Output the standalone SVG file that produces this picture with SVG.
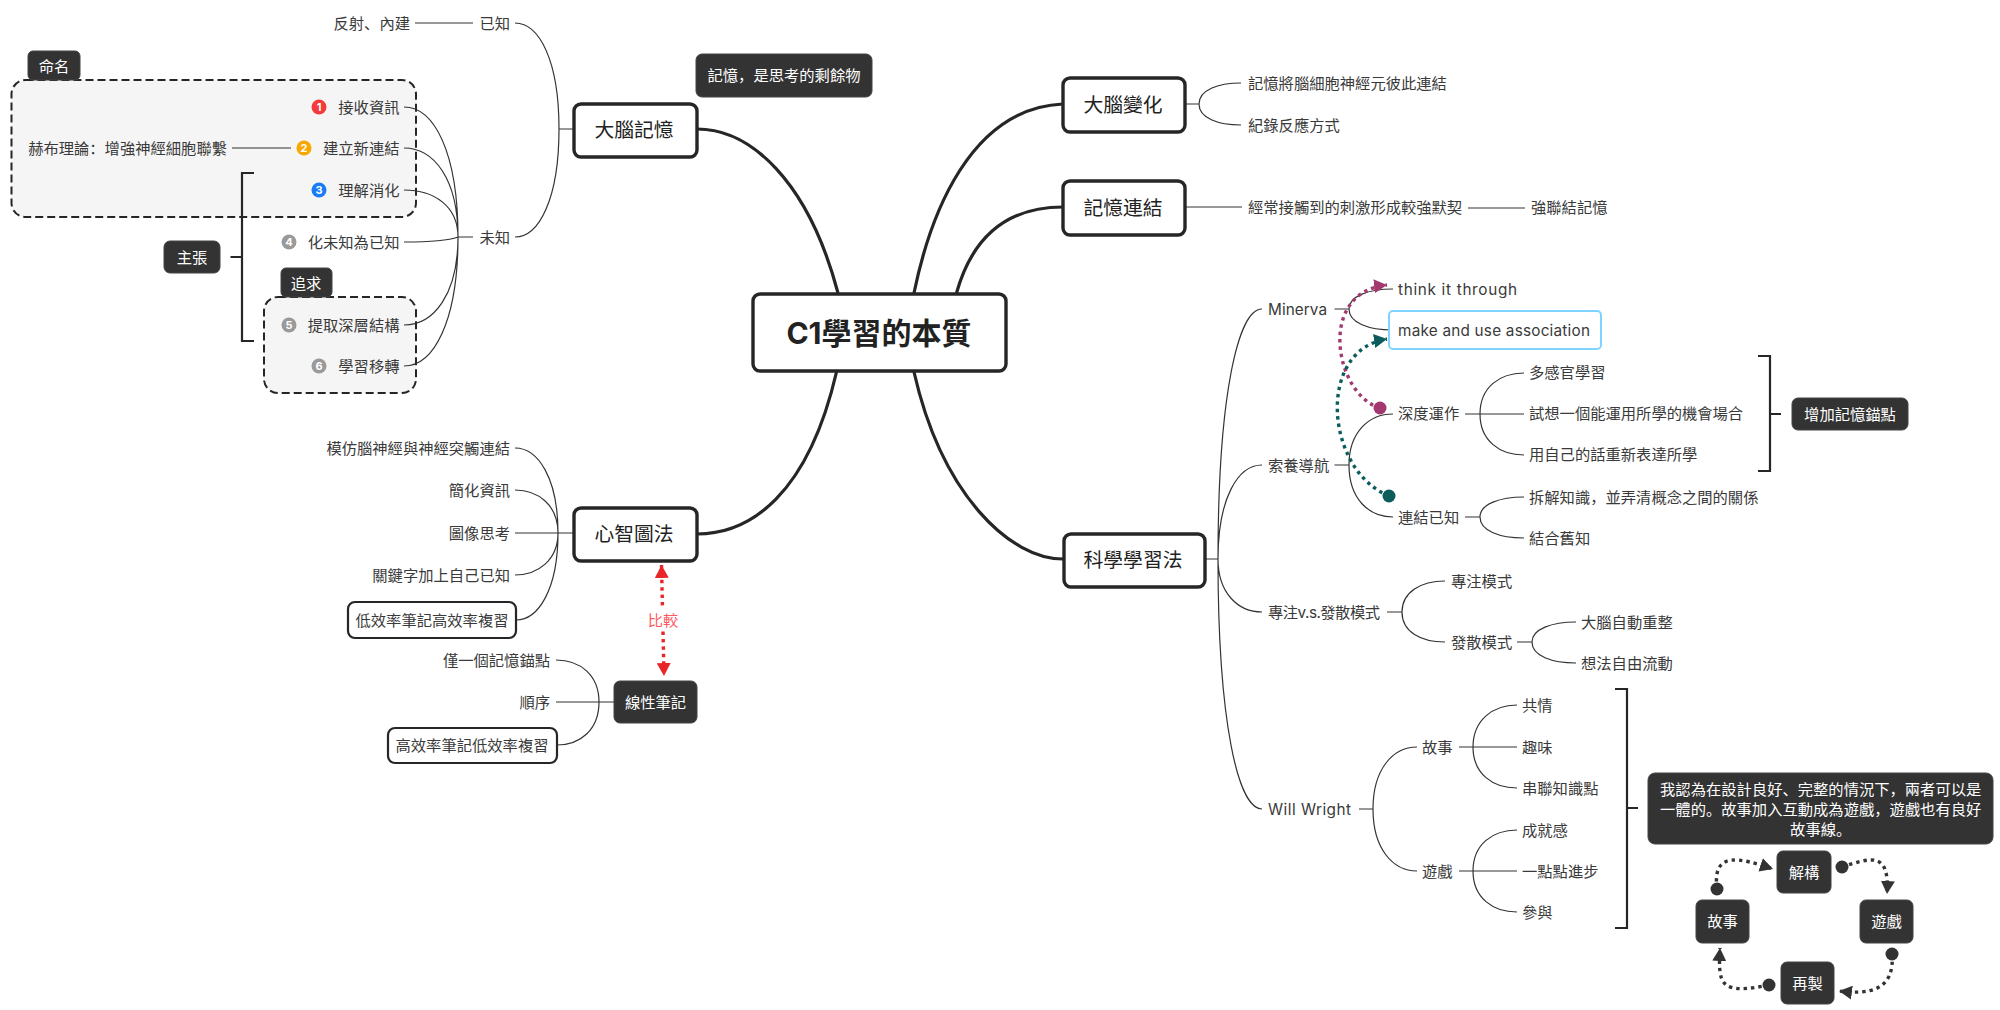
<svg xmlns="http://www.w3.org/2000/svg" width="2000" height="1010" viewBox="0 0 2000 1010">
<style>
text{font-family:Inter,"Noto Sans CJK SC","Noto Sans CJK TC",sans-serif;font-size:15.3px;fill:#3a3a3a;dominant-baseline:central}
.r{text-anchor:end}.m{text-anchor:middle}
.w{fill:#fff;text-anchor:middle}
.h{font-size:19.8px;fill:#222;text-anchor:middle}
.i{font-size:11px;font-weight:700;fill:#fff;text-anchor:middle}
.node{fill:#fff;stroke:#262626;stroke-width:3.4}
.dark{fill:#333;stroke:#444;stroke-width:1}
.box{fill:#fff;stroke:#262626;stroke-width:2.2}
.zone{fill:#f5f5f5;stroke:#262626;stroke-width:2;stroke-dasharray:8 4}
.thin{fill:none;stroke:#333;stroke-width:1.2}
.main{fill:none;stroke:#262626;stroke-width:3.2}
.brk{fill:none;stroke:#262626;stroke-width:2.2}
.dot{fill:none;stroke-width:3.4;stroke-dasharray:3.4 4}
</style>
<defs>
<marker id="am" markerUnits="userSpaceOnUse" markerWidth="14" markerHeight="14" refX="13" refY="7" orient="auto"><path d="M0,0L13,7L0,14Z" fill="#a3386f"/></marker>
<marker id="cm" markerUnits="userSpaceOnUse" markerWidth="14" markerHeight="14" refX="7" refY="7"><circle cx="7" cy="7" r="6.5" fill="#a3386f"/></marker>
<marker id="at" markerUnits="userSpaceOnUse" markerWidth="14" markerHeight="14" refX="13" refY="7" orient="auto"><path d="M0,0L13,7L0,14Z" fill="#0d5c5c"/></marker>
<marker id="ct" markerUnits="userSpaceOnUse" markerWidth="14" markerHeight="14" refX="7" refY="7"><circle cx="7" cy="7" r="6.5" fill="#0d5c5c"/></marker>
<marker id="ad" markerUnits="userSpaceOnUse" markerWidth="14" markerHeight="14" refX="13" refY="7" orient="auto"><path d="M0,0L13,7L0,14Z" fill="#333"/></marker>
<marker id="cd" markerUnits="userSpaceOnUse" markerWidth="14" markerHeight="14" refX="7" refY="7"><circle cx="7" cy="7" r="6.5" fill="#333"/></marker>
<marker id="ar" markerUnits="userSpaceOnUse" markerWidth="14" markerHeight="14" refX="13" refY="7" orient="auto-start-reverse"><path d="M0,0L13,7L0,14Z" fill="#e8262a"/></marker>
</defs>

<g id="zones">
<rect class="zone" x="11.5" y="80" width="404.5" height="137" rx="14"/>
<rect class="zone" x="264" y="297" width="152" height="96" rx="14"/>
</g>

<g id="connectors">
<path class="main" d="M838,293C808,180 750,129 697,129"/>
<path class="main" d="M914,293C930,215 970,108 1063,104"/>
<path class="main" d="M956.5,293C970,245 1000,207 1063,207"/>
<path class="main" d="M836.5,372C808,495 750,534 697,534"/>
<path class="main" d="M914,372C942,495 1010,559 1063,559"/>

<path class="thin" d="M574,129H559M559,129C559,60 539,23 515,23M559,129C559,199 539,237 515,237M473,23H415M473,237H458"/>
<path class="thin" d="M458,237C458,152 434,107 404,107M458,237C458,179 434,148 404,148M458,237C458,206 434,190 404,190M458,237C450,240 434,242 404,242M458,237C458,294 434,325 404,325M458,237C458,321 434,366 404,366M291,148H232"/>
<path class="thin" d="M574,533H515M558,533C558,478 538,448 515,448M558,533C558,505 538,490 515,490M558,533C558,560 538,575 515,575M558,533C558,590 538,620 516,620"/>
<path class="thin" d="M614,702H556M599,702C599,675 580,660 556,660M599,702C599,730 580,745 557,745"/>
<path class="thin" d="M1185,104H1199M1199,104C1199,90 1218,83 1241,83M1199,104C1199,118 1218,125 1241,125"/>
<path class="thin" d="M1185,207H1242M1468,208H1525"/>
<path class="thin" d="M1205,559H1218M1218,559C1218,396 1238,309 1262,309M1218,559C1218,498 1238,465 1262,465M1218,559C1218,593 1238,612 1262,612M1218,559C1218,722 1238,809 1262,809"/>
<path class="thin" d="M1334.5,309H1349M1349,309C1349,296 1369,289 1393,289M1349,309C1349,323 1369,330 1393,330"/>
<path class="thin" d="M1334.5,465H1349M1349,465C1349,432 1369,414 1393,414M1349,465C1349,499 1369,517 1393,517"/>
<path class="thin" d="M1465,414H1524M1480,414C1480,387 1500,373 1524,373M1480,414C1480,441 1500,455 1524,455"/>
<path class="thin" d="M1465,517H1480M1480,517C1480,504 1500,497 1524,497M1480,517C1480,531 1500,538 1524,538"/>
<path class="thin" d="M1387,612H1402M1402,612C1402,592 1421,581 1445,581M1402,612C1402,632 1421,642 1445,642"/>
<path class="thin" d="M1517,642H1532M1532,642C1532,629 1552,622 1576,622M1532,642C1532,656 1552,663 1576,663"/>
<path class="thin" d="M1359,809H1373M1373,809C1373,769 1393,747 1417,747M1373,809C1373,849 1393,871 1417,871"/>
<path class="thin" d="M1459,747H1517M1473,747C1473,720 1493,705 1517,705M1473,747C1473,774 1493,788 1517,788"/>
<path class="thin" d="M1459,871H1517M1473,871C1473,844 1493,830 1517,830M1473,871C1473,898 1493,912 1517,912"/>

<path class="brk" d="M254,173H242V341H254M242,257H230.5"/>
<path class="brk" d="M1758,356H1770V471H1758M1770,414H1781"/>
<path class="brk" d="M1615,689H1627V928H1615M1627,808H1638"/>

<path class="dot" stroke="#a3386f" marker-start="url(#cm)" marker-end="url(#am)" d="M1380,408C1335,395 1316,292 1387,285"/>
<path class="dot" stroke="#0d5c5c" marker-start="url(#ct)" marker-end="url(#at)" d="M1389,496C1325,470 1316,350 1387,339"/>
<path class="dot" stroke="#e8262a" marker-start="url(#ar)" marker-end="url(#ar)" d="M661.5,565L664,676"/>
<path class="dot" stroke="#333" marker-start="url(#cd)" marker-end="url(#ad)" d="M1717,889C1712,850 1740,858 1773,869"/>
<path class="dot" stroke="#333" marker-start="url(#cd)" marker-end="url(#ad)" d="M1842,867C1870,858 1890,850 1887,894"/>
<path class="dot" stroke="#333" marker-start="url(#cd)" marker-end="url(#ad)" d="M1892,954C1895,990 1870,995 1839,991"/>
<path class="dot" stroke="#333" marker-start="url(#cd)" marker-end="url(#ad)" d="M1769,985C1720,995 1718,985 1720,948"/>
</g>

<g id="center"><rect class="node" x="753" y="294" width="253" height="77" rx="7"/><text x="879" y="333" style="font-size:30px;font-weight:700;fill:#222;text-anchor:middle">C1學習的本質</text></g>

<g id="n-brain"><rect class="node" x="574" y="104" width="123" height="53" rx="7"/><text class="h" x="634" y="130">大腦記憶</text></g>
<g id="n-brainchange"><rect class="node" x="1063" y="78" width="122" height="54" rx="7"/><text class="h" x="1123" y="105">大腦變化</text></g>
<g id="n-link"><rect class="node" x="1063" y="181" width="122" height="54" rx="7"/><text class="h" x="1123" y="208">記憶連結</text></g>
<g id="n-science"><rect class="node" x="1064" y="534" width="141" height="53" rx="7"/><text class="h" x="1133" y="560">科學學習法</text></g>
<g id="n-mindmap"><rect class="node" x="574" y="508" width="123" height="53" rx="7"/><text class="h" x="634" y="534">心智圖法</text></g>
<g id="n-linear"><rect class="dark" x="614" y="681" width="83" height="42" rx="6"/><text class="w" x="655.5" y="702">線性筆記</text></g>
<g id="n-note"><rect class="dark" x="696" y="54" width="176" height="43" rx="6"/><text class="w" x="784" y="75">記憶，是思考的剩餘物</text></g>

<g id="n-known"><text class="r" x="510" y="23">已知</text></g>
<g id="n-reflex"><text class="r" x="410" y="23">反射、內建</text></g>
<g id="n-unknown"><text class="r" x="510" y="237">未知</text></g>
<g id="n-name"><rect class="dark" x="28" y="51" width="52" height="29" rx="5"/><text class="w" x="54" y="66">命名</text></g>
<g id="n-s1"><circle cx="319" cy="107" r="7.5" fill="#f43a3a"/><text class="i" x="319" y="107">1</text><text class="r" x="399.5" y="107">接收資訊</text></g>
<g id="n-s2"><circle cx="304" cy="148" r="7.5" fill="#f7a800"/><text class="i" x="304" y="148">2</text><text class="r" x="399.5" y="148">建立新連結</text></g>
<g id="n-hebb"><text class="r" x="227" y="148">赫布理論：增強神經細胞聯繫</text></g>
<g id="n-s3"><circle cx="319" cy="190" r="7.5" fill="#1a7cf5"/><text class="i" x="319" y="190">3</text><text class="r" x="399.5" y="190">理解消化</text></g>
<g id="n-s4"><circle cx="289" cy="242" r="7.5" fill="#9a9a9a"/><text class="i" x="289" y="242">4</text><text class="r" x="399.5" y="242">化未知為已知</text></g>
<g id="n-s5"><circle cx="289" cy="325" r="7.5" fill="#9a9a9a"/><text class="i" x="289" y="325">5</text><text class="r" x="399.5" y="325">提取深層結構</text></g>
<g id="n-s6"><circle cx="319" cy="366" r="7.5" fill="#9a9a9a"/><text class="i" x="319" y="366">6</text><text class="r" x="399.5" y="366">學習移轉</text></g>
<g id="n-claim"><rect class="dark" x="164" y="241" width="56" height="32" rx="6"/><text class="w" x="192" y="257">主張</text></g>
<g id="n-seek"><rect class="dark" x="281" y="268" width="51" height="29" rx="5"/><text class="w" x="306" y="283">追求</text></g>

<g id="n-m1"><text class="r" x="510" y="448">模仿腦神經與神經突觸連結</text></g>
<g id="n-m2"><text class="r" x="510" y="490">簡化資訊</text></g>
<g id="n-m3"><text class="r" x="510" y="533">圖像思考</text></g>
<g id="n-m4"><text class="r" x="510" y="575">關鍵字加上自己已知</text></g>
<g id="n-m5"><rect class="box" x="348" y="602" width="168" height="36" rx="7"/><text class="m" x="432" y="620">低效率筆記高效率複習</text></g>
<g id="n-l1"><text class="r" x="550" y="660">僅一個記憶錨點</text></g>
<g id="n-l2"><text class="r" x="550" y="702">順序</text></g>
<g id="n-l3"><rect class="box" x="388" y="728" width="169" height="35" rx="7"/><text class="m" x="472" y="745.5">高效率筆記低效率複習</text></g>
<g id="n-compare"><rect x="646" y="609" width="34" height="21" fill="#fff"/><text class="m" x="663" y="620" style="fill:#ff5a5f">比較</text></g>

<g id="n-b1"><text x="1248" y="83">記憶將腦細胞神經元彼此連結</text></g>
<g id="n-b2"><text x="1248" y="125">紀錄反應方式</text></g>
<g id="n-c1"><text x="1248" y="207.5">經常接觸到的刺激形成較強默契</text></g>
<g id="n-c2"><text x="1531" y="207.5">強聯結記憶</text></g>

<g id="n-minerva"><text x="1268" y="309" textLength="59">Minerva</text></g>
<g id="n-think"><text x="1398" y="289" textLength="119">think it through</text></g>
<g id="n-make"><rect x="1389" y="311" width="212" height="38" rx="4" fill="#fff" stroke="#7fd4ff" stroke-width="2"/><text x="1398" y="330" textLength="192">make and use association</text></g>
<g id="n-literacy"><text x="1268" y="465">索養導航</text></g>
<g id="n-deep"><text x="1398" y="413.5">深度運作</text></g>
<g id="n-d1"><text x="1529" y="372">多感官學習</text></g>
<g id="n-d2"><text x="1529" y="413.5">試想一個能運用所學的機會場合</text></g>
<g id="n-d3"><text x="1529" y="454.5">用自己的話重新表達所學</text></g>
<g id="n-anchor"><rect class="dark" x="1792" y="398" width="116" height="32" rx="6"/><text class="w" x="1850" y="414">增加記憶錨點</text></g>
<g id="n-connect"><text x="1398" y="517">連結已知</text></g>
<g id="n-k1"><text x="1529" y="497">拆解知識，並弄清概念之間的關係</text></g>
<g id="n-k2"><text x="1529" y="538">結合舊知</text></g>
<g id="n-focus"><text x="1268" y="612" textLength="112">專注v.s.發散模式</text></g>
<g id="n-f1"><text x="1451" y="581">專注模式</text></g>
<g id="n-f2"><text x="1451" y="642">發散模式</text></g>
<g id="n-f3"><text x="1581" y="622">大腦自動重整</text></g>
<g id="n-f4"><text x="1581" y="663">想法自由流動</text></g>
<g id="n-will"><text x="1268" y="809" textLength="83">Will Wright</text></g>
<g id="n-story"><text x="1422" y="747">故事</text></g>
<g id="n-s-a"><text x="1522" y="705">共情</text></g>
<g id="n-s-b"><text x="1522" y="747">趣味</text></g>
<g id="n-s-c"><text x="1522" y="788">串聯知識點</text></g>
<g id="n-game"><text x="1422" y="871">遊戲</text></g>
<g id="n-g-a"><text x="1522" y="830">成就感</text></g>
<g id="n-g-b"><text x="1522" y="871">一點點進步</text></g>
<g id="n-g-c"><text x="1522" y="912">參與</text></g>
<g id="n-opinion"><rect class="dark" x="1648" y="773" width="345" height="71" rx="7"/><text class="w" x="1820.7" y="789">我認為在設計良好、完整的情況下，兩者可以是</text><text class="w" x="1820.7" y="809">一體的。故事加入互動成為遊戲，遊戲也有良好</text><text class="w" x="1820.7" y="829">故事線。</text></g>
<g id="n-decon"><rect class="dark" x="1777" y="851" width="54" height="42" rx="6"/><text class="w" x="1804" y="872">解構</text></g>
<g id="n-lstory"><rect class="dark" x="1696" y="900" width="53" height="43" rx="6"/><text class="w" x="1722.5" y="921">故事</text></g>
<g id="n-lgame"><rect class="dark" x="1860" y="900" width="53" height="43" rx="6"/><text class="w" x="1886.5" y="921">遊戲</text></g>
<g id="n-repro"><rect class="dark" x="1781" y="962" width="53" height="42" rx="6"/><text class="w" x="1807.5" y="983">再製</text></g>
</svg>
